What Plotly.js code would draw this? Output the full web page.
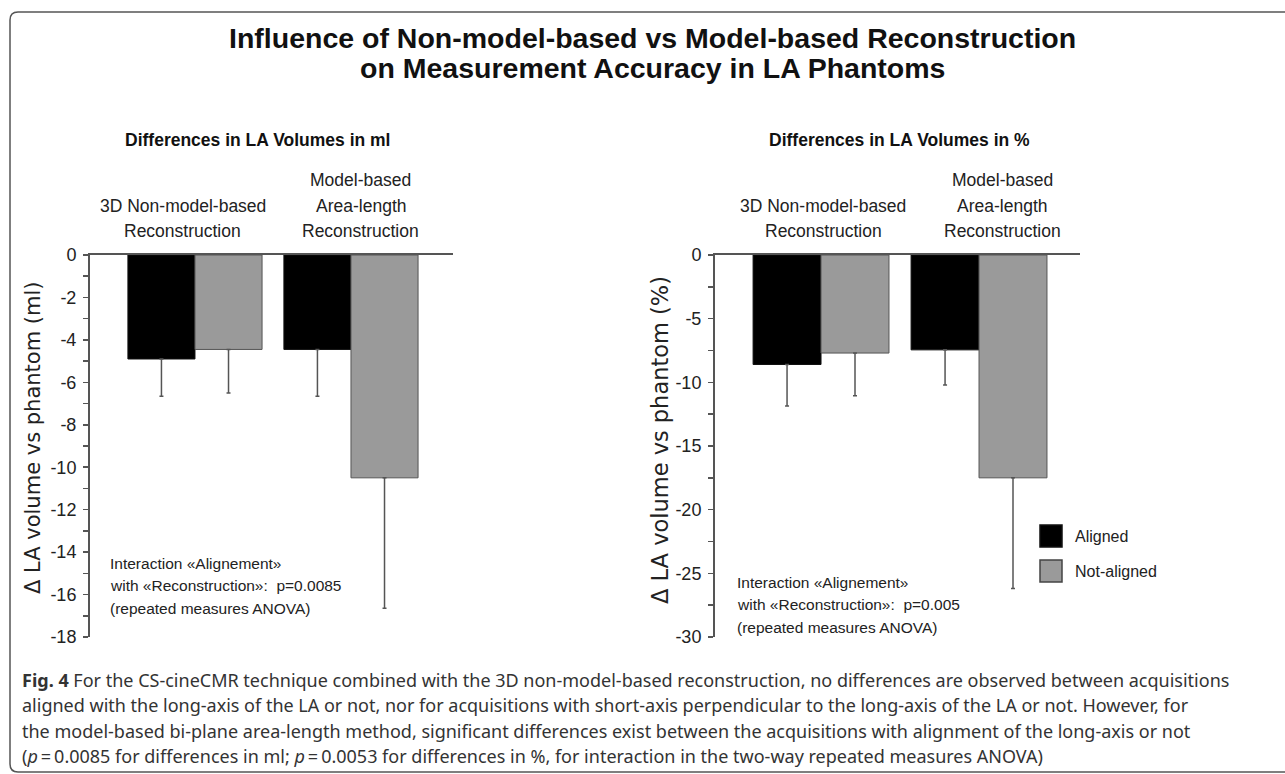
<!DOCTYPE html>
<html>
<head>
<meta charset="utf-8">
<script src="https://cdn.plot.ly/plotly-3.0.1.min.js"></script>
<style>
  html, body { margin: 0; padding: 0; background: #fff; }
  #chart { width: 1285px; height: 774px; }
</style>
</head>
<body>
<div id="chart"></div>
<script>
// ---------------- data ----------------
const categories = ['3D Non-model-based<br>Reconstruction', 'Model-based<br>Area-length<br>Reconstruction'];
const seriesNames = ['Aligned', 'Not-aligned'];
const seriesColors = ['#000000', '#9a9a9a'];

const mlAligned = [-4.9, -4.45];
const mlAlignedErr = [1.75, 2.2];
const mlNotAligned = [-4.45, -10.5];
const mlNotAlignedErr = [2.05, 6.15];

const pctAligned = [-8.6, -7.45];
const pctAlignedErr = [3.25, 2.75];
const pctNotAligned = [-7.7, -17.5];
const pctNotAlignedErr = [3.35, 8.7];

const mlTickVals = [0, -2, -4, -6, -8, -10, -12, -14, -16, -18];
const mlTickText = ['0', '-2', '-4', '-6', '-8', '-10', '-12', '-14', '-16', '-18'];
const pctTickVals = [0, -5, -10, -15, -20, -25, -30];
const pctTickText = ['0', '-5', '-10', '-15', '-20', '-25', '-30'];

const mainTitle = ['Influence of Non-model-based vs Model-based Reconstruction', 'on Measurement Accuracy in LA Phantoms'];
const panelTitles = ['Differences in LA Volumes in ml', 'Differences in LA Volumes in %'];
const yTitles = ['\u0394 LA volume vs phantom (ml)', '\u0394 LA volume vs phantom (%)'];
const anovaNotes = [
  ['Interaction \u00abAlignement\u00bb', 'with \u00abReconstruction\u00bb:  p=0.0085', '(repeated measures ANOVA)'],
  ['Interaction \u00abAlignement\u00bb', 'with \u00abReconstruction\u00bb:  p=0.005', '(repeated measures ANOVA)']
];
const captionLines = [
  '<b>Fig. 4</b> For the CS-cineCMR technique combined with the 3D non-model-based reconstruction, no differences are observed between acquisitions',
  'aligned with the long-axis of the LA or not, nor for acquisitions with short-axis perpendicular to the long-axis of the LA or not. However,\u00a0for',
  'the model-based bi-plane area-length method, significant differences exist between the acquisitions with alignment of the long-axis or not',
  '(<i>p</i>\u2009=\u20090.0085 for differences in ml; <i>p</i>\u2009=\u20090.0053 for differences in %, for interaction in the two-way repeated measures ANOVA)'
];

// ---------------- layout helpers ----------------
const W = 1285, H = 774;
const px = v => v / W;
const py = v => 1 - v / H;
const catIdx = categories.map((c, i) => i);

const FONT = 'Liberation Sans, Arial, sans-serif';

function barTrace(y, err, k, xa, ya) {
  return {
    type: 'bar', x: catIdx, y: y, name: seriesNames[k], xaxis: xa, yaxis: ya,
    marker: { color: seriesColors[k], line: { color: k === 0 ? '#111' : '#555', width: 1 } },
    error_y: { type: 'data', symmetric: false, array: y.map(() => 0), arrayminus: err,
               color: '#555', thickness: 1.5, width: 2 },
    showlegend: false, hoverinfo: 'y'
  };
}

const data = [
  barTrace(mlAligned, mlAlignedErr, 0, 'x', 'y'),
  barTrace(mlNotAligned, mlNotAlignedErr, 1, 'x', 'y'),
  barTrace(pctAligned, pctAlignedErr, 0, 'x2', 'y2'),
  barTrace(pctNotAligned, pctNotAlignedErr, 1, 'x2', 'y2')
];

const yTop = py(255), yBot = py(637);

function yAxis(range, vals, text, minor, anchor) {
  return {
    domain: [yBot, yTop], range: range, anchor: anchor,
    showgrid: false, zeroline: false, showline: true, linecolor: '#555', linewidth: 2,
    ticks: 'outside', ticklen: 5, tickwidth: 1.5, tickcolor: '#555',
    tickmode: 'array', tickvals: vals, ticktext: text,
    minor: { dtick: minor, tick0: 0, ticks: 'outside', ticklen: 5, tickwidth: 1.5, tickcolor: '#555', showgrid: false },
    tickfont: { family: FONT, size: 18, color: '#222' }, ticklabelstandoff: 3,
    fixedrange: true
  };
}
function xAxis(domain, range, anchor) {
  return {
    domain: domain, range: range, anchor: anchor, side: 'top',
    showgrid: false, zeroline: false, showline: true, linecolor: '#555', linewidth: 2,
    ticks: '', showticklabels: false, fixedrange: true
  };
}

const annotations = [];
// main title
mainTitle.forEach((t, i) => annotations.push({
  xref: 'paper', yref: 'paper', x: px(652), y: py(38 + i * 30), xanchor: 'center', yanchor: 'middle',
  text: '<b>' + t + '</b>', showarrow: false,
  font: { family: FONT, size: 28.5, color: '#111' }
}));
// panel titles
[257, 900].forEach((cx, i) => annotations.push({
  xref: 'paper', yref: 'paper', x: px(cx), y: py(140), xanchor: 'center', yanchor: 'middle',
  text: '<b>' + panelTitles[i] + '</b>', showarrow: false,
  font: { family: FONT, size: 17.5, color: '#111' }
}));
// y titles
[[33, 438, 21], [660, 440, 22.5]].forEach((pos, i) => annotations.push({
  xref: 'paper', yref: 'paper', x: px(pos[0]), y: py(pos[1]), xanchor: 'center', yanchor: 'middle',
  text: yTitles[i], textangle: -90, showarrow: false,
  font: { family: 'DejaVu Sans, Verdana, sans-serif', size: pos[2], color: '#222' }
}));
// category labels (above bars)
const catLabelX = [[-0.077, 1.064], [0.013, 1.146]];
['x', 'x2'].forEach((xa, p) => {
  categories.forEach((c, i) => {
    const lines = c.split('<br>');
    lines.forEach((ln, j) => {
      const yc = 231 - (lines.length - 1 - j) * 25.5;
      annotations.push({
        xref: xa, yref: 'paper', x: catLabelX[p][i], y: py(yc), xanchor: 'center', yanchor: 'middle',
        text: ln, showarrow: false, font: { family: FONT, size: 17.5, color: '#222' }
      });
    });
  });
});
// ANOVA notes
[[108, 563], [735, 582]].forEach((pos, p) => {
  anovaNotes[p].forEach((ln, j) => annotations.push({
    xref: 'paper', yref: 'paper', x: px(pos[0]), y: py(pos[1] + j * 22.5), xanchor: 'left', yanchor: 'middle',
    text: ln, showarrow: false, font: { family: FONT, size: 15.5, color: '#222' }
  }));
});
// legend text
seriesNames.forEach((n, k) => annotations.push({
  xref: 'paper', yref: 'paper', x: px(1073), y: py(536 + k * 35), xanchor: 'left', yanchor: 'middle',
  text: n, showarrow: false, font: { family: FONT, size: 16, color: '#222' }
}));
// caption
captionLines.forEach((ln, j) => annotations.push({
  xref: 'paper', yref: 'paper', x: px(20), y: py(680 + j * 25.3), xanchor: 'left', yanchor: 'middle',
  text: ln, showarrow: false, align: 'left',
  font: { family: 'Noto Sans, Open Sans, sans-serif', size: 18, color: '#333' }
}));

const shapes = [];
// legend swatches
seriesColors.forEach((c, k) => shapes.push({
  type: 'rect', xref: 'paper', yref: 'paper',
  x0: px(1040), x1: px(1062), y0: py(547 + k * 35), y1: py(525 + k * 35),
  fillcolor: c, line: { color: k === 0 ? '#111' : '#444', width: 1.5 }
}));
// rounded frame (open on the right)
const fx = px(10), ft = py(12), fb = py(772), rx = 8 / W, ry = 8 / H;
shapes.push({
  type: 'path', xref: 'paper', yref: 'paper',
  path: `M 1.01,${ft} L ${fx + rx},${ft} Q ${fx},${ft} ${fx},${ft - ry} L ${fx},${fb + ry} Q ${fx},${fb} ${fx + rx},${fb} L 1.01,${fb}`,
  line: { color: '#555', width: 1.5 }
});

const layout = {
  width: W, height: H,
  margin: { l: 0, r: 0, t: 0, b: 0 },
  paper_bgcolor: '#fff', plot_bgcolor: 'rgba(0,0,0,0)',
  barmode: 'group', bargap: 0.14, bargroupgap: 0.0,
  showlegend: false,
  xaxis: xAxis([px(90), px(453)], [-0.673, 1.654], 'y'),
  yaxis: yAxis([-18, 0], mlTickVals, mlTickText, 1, 'x'),
  xaxis2: xAxis([px(715), px(1080)], [-0.671, 1.639], 'y2'),
  yaxis2: yAxis([-30, 0], pctTickVals, pctTickText, 2.5, 'x2'),
  annotations: annotations,
  shapes: shapes
};

Plotly.newPlot('chart', data, layout, { displayModeBar: false, staticPlot: true });
</script>
</body>
</html>
